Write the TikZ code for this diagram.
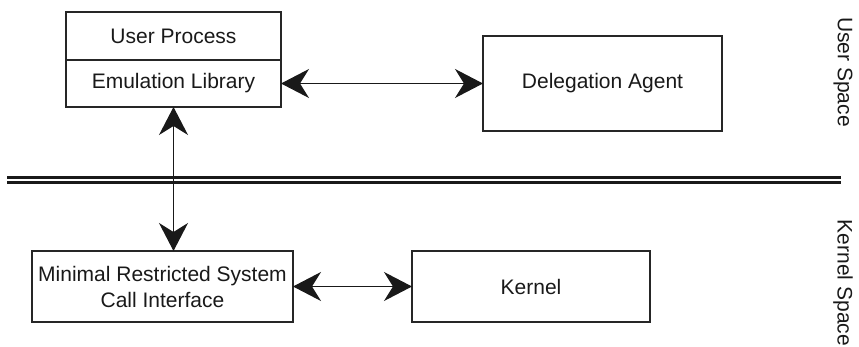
\documentclass[tikz,border=0pt]{standalone}
\usepackage{fontspec}
\setmainfont{Liberation Sans}
\usetikzlibrary{arrows.meta}

\begin{document}
\begin{tikzpicture}[x=1pt,y=-1pt,
  every node/.style={font=\fontsize{21}{26}\selectfont, text=black!90, inner sep=0pt, outer sep=0pt},
  box/.style={draw=black!85, line width=1.3pt, rectangle, align=center},
  link/.style={draw=black!90, line width=1.1pt,
    {Stealth[length=28pt,width=29pt,inset=9pt]}-{Stealth[length=28pt,width=29pt,inset=9pt]}},
  boundary/.style={draw=black!90, double=white, double distance=2.6pt, line width=2.3pt},
  side/.style={rotate=-90, anchor=center}
]
  \useasboundingbox (0,0) rectangle (859,347);

  % user space
  \node[box, minimum width=215pt, minimum height=48pt] (user) at (173.5,36) {User Process};
  \node[box, minimum width=215pt, minimum height=47pt] (emu) at (173.5,83.5) {Emulation Library};
  \node[box, minimum width=239pt, minimum height=95pt] (deleg) at (602.5,83.5) {Delegation Agent};

  % kernel space
  \node[box, minimum width=261pt, minimum height=71pt] (mrsci) at (162.5,286.5)
    {Minimal Restricted System\\Call Interface};
  \node[box, minimum width=238pt, minimum height=71pt] (kernel) at (531,286.5) {Kernel};

  % user/kernel boundary
  \coordinate (sepL) at (7,180);
  \coordinate (sepR) at (841,180);
  \draw[boundary] (sepL) -- (sepR);

  % side labels
  \node[side] (uspace) at (843,72) {User Space};
  \node[side] (kspace) at (843,283) {Kernel Space};

  % connectors
  \draw[link] (emu.east) -- (deleg.west);
  \draw[link] (emu.south) -- (emu.south |- mrsci.north);
  \draw[link] (mrsci.east) -- (kernel.west);
\end{tikzpicture}
\end{document}
